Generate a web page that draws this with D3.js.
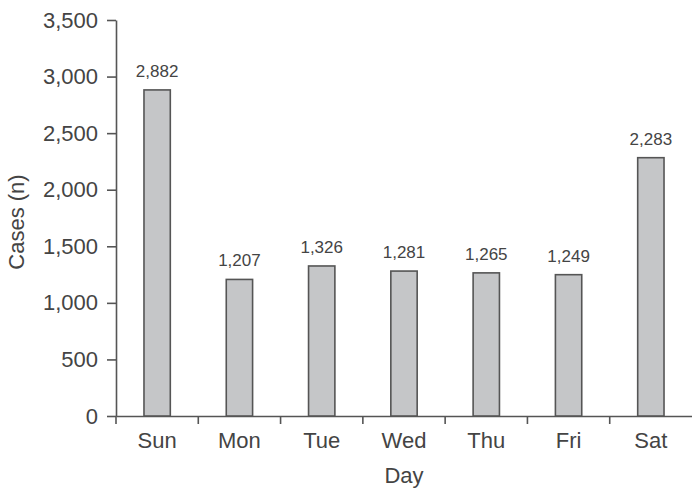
<!DOCTYPE html>
<html>
<head>
<meta charset="utf-8">
<script src="https://cdn.jsdelivr.net/npm/d3@7"></script>
<style>
  body { margin: 0; background: #fff; }
  svg { display: block; font-family: "Liberation Sans", Arial, sans-serif; }
</style>
</head>
<body>
<svg width="692" height="493"></svg>
<script>
// data
var days = ["Sun", "Mon", "Tue", "Wed", "Thu", "Fri", "Sat"];
var cases = [2882, 1207, 1326, 1281, 1265, 1249, 2283];
var yTicks = [0, 500, 1000, 1500, 2000, 2500, 3000, 3500];

var svg = d3.select("svg");
var textColor = "#444";
var lineColor = "#555";

var x = d3.scaleBand().domain(days).range([116, 692]).padding(0);
var y = d3.scaleLinear().domain([0, 3500]).range([416, 20]);
var barW = x.bandwidth() * 0.32;
var fmt = d3.format(",");

// y axis
var yAxis = svg.append("g")
    .attr("transform", "translate(116,0)")
    .call(d3.axisLeft(y).tickValues(yTicks).tickFormat(fmt)
        .tickSize(9).tickSizeOuter(0).tickPadding(9));
yAxis.selectAll("path, line").attr("stroke", lineColor).attr("stroke-width", 1.6);
yAxis.selectAll("text").attr("font-size", 22).attr("fill", textColor)
    .attr("font-family", "Liberation Sans, Arial, sans-serif");

// x axis (labels centred, ticks at category boundaries)
var xAxis = svg.append("g")
    .attr("transform", "translate(0,416)")
    .call(d3.axisBottom(x).tickSize(0).tickSizeOuter(0).tickPadding(16));
xAxis.selectAll("path").attr("stroke", lineColor).attr("stroke-width", 1.6);
xAxis.selectAll("text").attr("font-size", 22).attr("fill", textColor)
    .attr("font-family", "Liberation Sans, Arial, sans-serif");

xAxis.selectAll("line.bound")
    .data(days)
    .enter()
    .append("line")
    .attr("class", "bound")
    .attr("x1", d => x(d))
    .attr("x2", d => x(d))
    .attr("y1", 0)
    .attr("y2", 8)
    .attr("stroke", lineColor)
    .attr("stroke-width", 1.6);

// bars
svg.selectAll("rect.bar")
    .data(days)
    .enter()
    .append("rect")
    .attr("class", "bar")
    .attr("x", d => x(d) + (x.bandwidth() - barW) / 2)
    .attr("y", (d, i) => y(cases[i]))
    .attr("width", barW)
    .attr("height", (d, i) => y(0) - y(cases[i]))
    .attr("fill", "#c5c6c8")
    .attr("stroke", lineColor)
    .attr("stroke-width", 1.6);

// value labels
svg.selectAll("text.val")
    .data(days)
    .enter()
    .append("text")
    .attr("class", "val")
    .attr("x", d => x(d) + x.bandwidth() / 2)
    .attr("y", (d, i) => y(cases[i]) - 13)
    .attr("text-anchor", "middle")
    .attr("font-size", 17)
    .attr("fill", textColor)
    .text((d, i) => fmt(cases[i]));

// axis titles
svg.append("text")
    .attr("x", 404)
    .attr("y", 483)
    .attr("text-anchor", "middle")
    .attr("font-size", 22)
    .attr("fill", textColor)
    .text("Day");

svg.append("text")
    .attr("transform", "translate(24,222) rotate(-90)")
    .attr("text-anchor", "middle")
    .attr("font-size", 22)
    .attr("fill", textColor)
    .text("Cases (n)");
</script>
</body>
</html>
